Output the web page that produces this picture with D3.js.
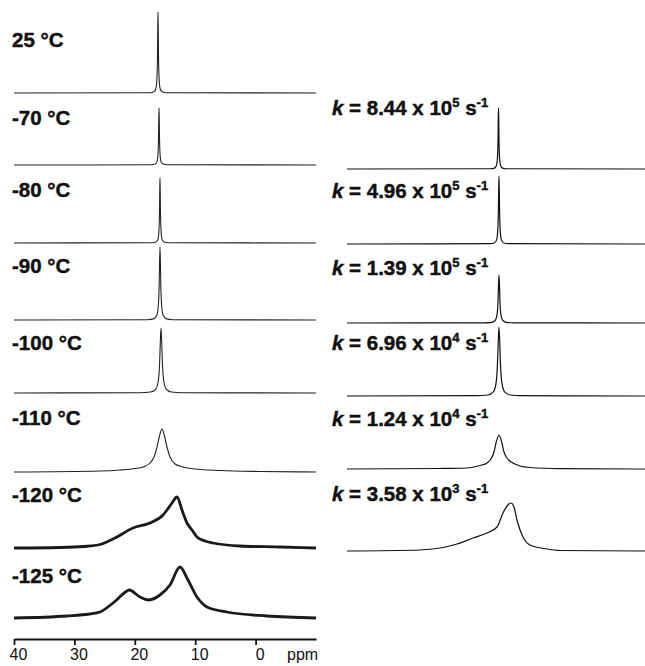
<!DOCTYPE html>
<html lang="en">
<head>
  <meta charset="UTF-8">
  <title>VT NMR spectra</title>
  <style type="text/css">
    body{
      margin: 0;
      background: #fff;
    }
    .label{
      font-family: "Liberation Sans", Arial, sans-serif;
      font-weight: bold;
      font-size: 20.5px;
      fill: #111;
      stroke: #111;
      stroke-width: 0.45px;
    }
    .axis text{
      font-family: "Liberation Sans", Arial, sans-serif;
      font-size: 16px;
      fill: #111;
    }
    .axis path,
    .axis line{
      stroke: #111;
      stroke-width: 1.8px;
    }
    .spec{
      fill: none;
      stroke-linejoin: round;
    }
  </style>
  <script type="text/javascript" src="https://cdnjs.cloudflare.com/ajax/libs/d3/7.8.5/d3.min.js"></script>
</head>
<body>
<script type="text/javascript">
  // experimental spectra, [ppm, intensity a.u.]
  var exp25 = [[40,0],[17.49,0.3],[16.82,1.2],[16.49,5],[16.33,16],[16.24,40],[16.20,65],[16.16,81],[16.12,65],[16.08,40],[15.99,16],[15.83,5],[15.50,1.2],[14.83,0.3],[-10,0]];
  var exp70 = [[40,0],[17.32,0.2],[16.65,0.9],[16.32,3.4],[16.16,11],[16.07,28],[16.03,46],[15.99,57],[15.95,46],[15.91,28],[15.82,11],[15.66,3.4],[15.33,0.9],[14.66,0.2],[-10,0]];
  var exp80 = [[40,0],[17.16,0.3],[16.49,1],[16.16,3.9],[16.00,13],[15.91,32],[15.87,52],[15.83,65],[15.79,52],[15.75,32],[15.66,13],[15.50,3.9],[15.17,1],[14.50,0.3],[-10,0]];
  var exp90 = [[40,0],[17.95,0.3],[16.89,1.1],[16.36,4.4],[16.10,15],[15.96,36],[15.90,58],[15.83,73],[15.76,58],[15.70,36],[15.56,15],[15.30,4.4],[14.77,1.1],[13.71,0.3],[-10,0]];
  var exp100 = [[40,0],[19.10,0.3],[17.38,1],[16.52,3.9],[16.09,13],[15.88,32],[15.77,52],[15.66,65],[15.55,52],[15.44,32],[15.23,13],[14.80,3.9],[13.94,1],[12.22,0.3],[-10,0]];
  var exp110 = [[40,0],[25.76,1],[22.45,2],[19.97,3.5],[18.64,5],[17.48,9],[16.82,15],[16.32,25],[15.83,38],[15.50,43],[15.17,38],[14.67,25],[14.17,15],[13.34,8],[12.02,5],[10.03,3],[5.89,1.5],[-0.73,0.5],[-10,0]];
  var exp120 = [[40,0],[32.38,0.5],[28.5,1.5],[25.76,3.5],[23.28,10],[20.30,20],[17.48,25],[15.33,33],[14.67,38],[13.84,45],[13.01,51],[12.19,38],[11.36,25],[10.53,18],[9.70,11],[8.38,7],[7.05,5],[2.58,2],[-4.04,1],[-10,0]];
  var exp125 = [[40,0],[31.23,2],[27.5,4],[25.76,6],[23.61,15],[21.29,27],[20.96,28],[19.14,21],[17.81,18],[15.83,23],[14.17,33],[12.52,51],[11.19,38],[9.70,21],[8.05,11],[4.74,6],[-1.89,2],[-10,0]];

  // simulated spectra, [ppm, intensity a.u.]
  var sim844 = [[40,0],[15.92,0.25],[15.25,0.9],[14.92,3.7],[14.75,12],[14.66,30],[14.62,49],[14.58,61],[14.54,49],[14.50,30],[14.41,12],[14.24,3.7],[13.91,0.9],[13.24,0.25],[-10,0]];
  var sim496 = [[40,0],[16.11,0.3],[15.31,1],[14.90,4.1],[14.70,14],[14.60,34],[14.55,54],[14.50,68],[14.45,54],[14.40,34],[14.30,14],[14.10,4.1],[13.69,1],[12.89,0.3],[-10,0]];
  var sim139 = [[40,0],[16.92,0.2],[15.71,0.7],[15.10,2.9],[14.80,9.6],[14.65,24],[14.58,38],[14.50,48],[14.42,38],[14.35,24],[14.20,9.6],[13.90,2.9],[13.29,0.7],[12.08,0.2],[-10,0]];
  var sim696 = [[40,0],[18.26,0.3],[16.38,1],[15.44,4.1],[14.97,13.8],[14.74,34.5],[14.62,55],[14.50,69],[14.38,55],[14.27,34.5],[14.03,13.8],[13.56,4.1],[12.62,1],[10.74,0.3],[-10,0]];
  var sim124 = [[40,0],[24.40,0.5],[19.87,1],[17.68,3.5],[16.51,6],[15.84,10],[15.34,17],[15.00,26],[14.50,34],[14.00,26],[13.66,17],[13.15,11],[12.15,6],[10.97,3],[9.30,1.5],[4.26,0.4],[-10,0]];
  var sim358 = [[40,0],[27.75,1],[24.40,3],[21.54,7],[18.86,13],[16.51,18],[14.83,24],[13.83,38],[13.15,45],[12.48,48],[11.98,44],[11.48,31],[10.47,14],[9.30,6],[6.44,2],[4.26,0.5],[-10,0]];

  var tempLabels = ['25 \u00B0C', '-70 \u00B0C', '-80 \u00B0C', '-90 \u00B0C', '-100 \u00B0C', '-110 \u00B0C', '-120 \u00B0C', '-125 \u00B0C'];
  var rateMantissa = ['8.44', '4.96', '1.39', '6.96', '1.24', '3.58'];
  var rateExponent = ['5', '5', '5', '4', '4', '3'];
  var ppmTicks = [40, 30, 20, 10, 0];

  var expSpectra = [exp25, exp70, exp80, exp90, exp100, exp110, exp120, exp125];
  var simSpectra = [sim844, sim496, sim139, sim696, sim124, sim358];

  // layout
  var leftBase = [93, 165, 243, 320, 393, 472, 548, 618];
  var leftLabelY = [47, 125, 197, 273, 350, 425, 502, 583];
  var rightBase = [169, 244, 323, 396, 469, 551];
  var rightLabelY = [115, 198, 275, 350, 426, 501];
  var axisY = 639;

  var svg = d3.select('body')
    .append('svg')
    .attr('width', 645)
    .attr('height', 666);

  var xLeft = d3.scaleLinear().domain([40, -10]).range([14, 316]);
  var xRight = d3.scaleLinear().domain([40, -10]).range([347, 645]);
  var yAmp = d3.scaleLinear().domain([0, 100]).range([0, 100]);

  function specLine(x, base){
    return d3.line()
      .x(function(d){ return x(d[0]); })
      .y(function(d){ return base - yAmp(d[1]); })
      .curve(d3.curveMonotoneX);
  }

  expSpectra.forEach(function(s, i){
    svg.append('path')
      .attr('class', 'spec')
      .attr('d', specLine(xLeft, leftBase[i])(s))
      .style('stroke', i >= 6 ? '#1a1a1a' : '#222')
      .style('stroke-width', i >= 6 ? 2.8 : 1.1);

    svg.append('text')
      .attr('class', 'label')
      .attr('x', 12)
      .attr('y', leftLabelY[i])
      .text(tempLabels[i]);
  });

  simSpectra.forEach(function(s, i){
    svg.append('path')
      .attr('class', 'spec')
      .attr('d', specLine(xRight, rightBase[i])(s))
      .style('stroke', '#111')
      .style('stroke-width', 1.2);

    var t = svg.append('text')
      .attr('class', 'label')
      .attr('x', 332)
      .attr('y', rightLabelY[i]);
    t.append('tspan').style('font-style', 'italic').text('k');
    t.append('tspan').text(' = ' + rateMantissa[i] + ' x 10');
    t.append('tspan').attr('dy', -8).style('font-size', '13px').text(rateExponent[i]);
    t.append('tspan').attr('dy', 8).text(' s');
    t.append('tspan').attr('dy', -8).style('font-size', '13px').text('-1');
  });

  var xAxis = d3.axisBottom(xLeft)
    .tickValues(ppmTicks)
    .tickSize(6)
    .tickSizeOuter(0)
    .tickPadding(4)
    .tickFormat(d3.format('d'));

  var ax = svg.append('g')
    .attr('class', 'axis')
    .attr('transform', 'translate(0,' + axisY + ')')
    .call(xAxis);
  ax.selectAll('text').attr('dx', 4);

  svg.append('text')
    .attr('x', 287)
    .attr('y', 660)
    .style('font-family', '"Liberation Sans", Arial, sans-serif')
    .style('font-size', '16px')
    .style('fill', '#111')
    .text('ppm');
</script>
</body>
</html>
